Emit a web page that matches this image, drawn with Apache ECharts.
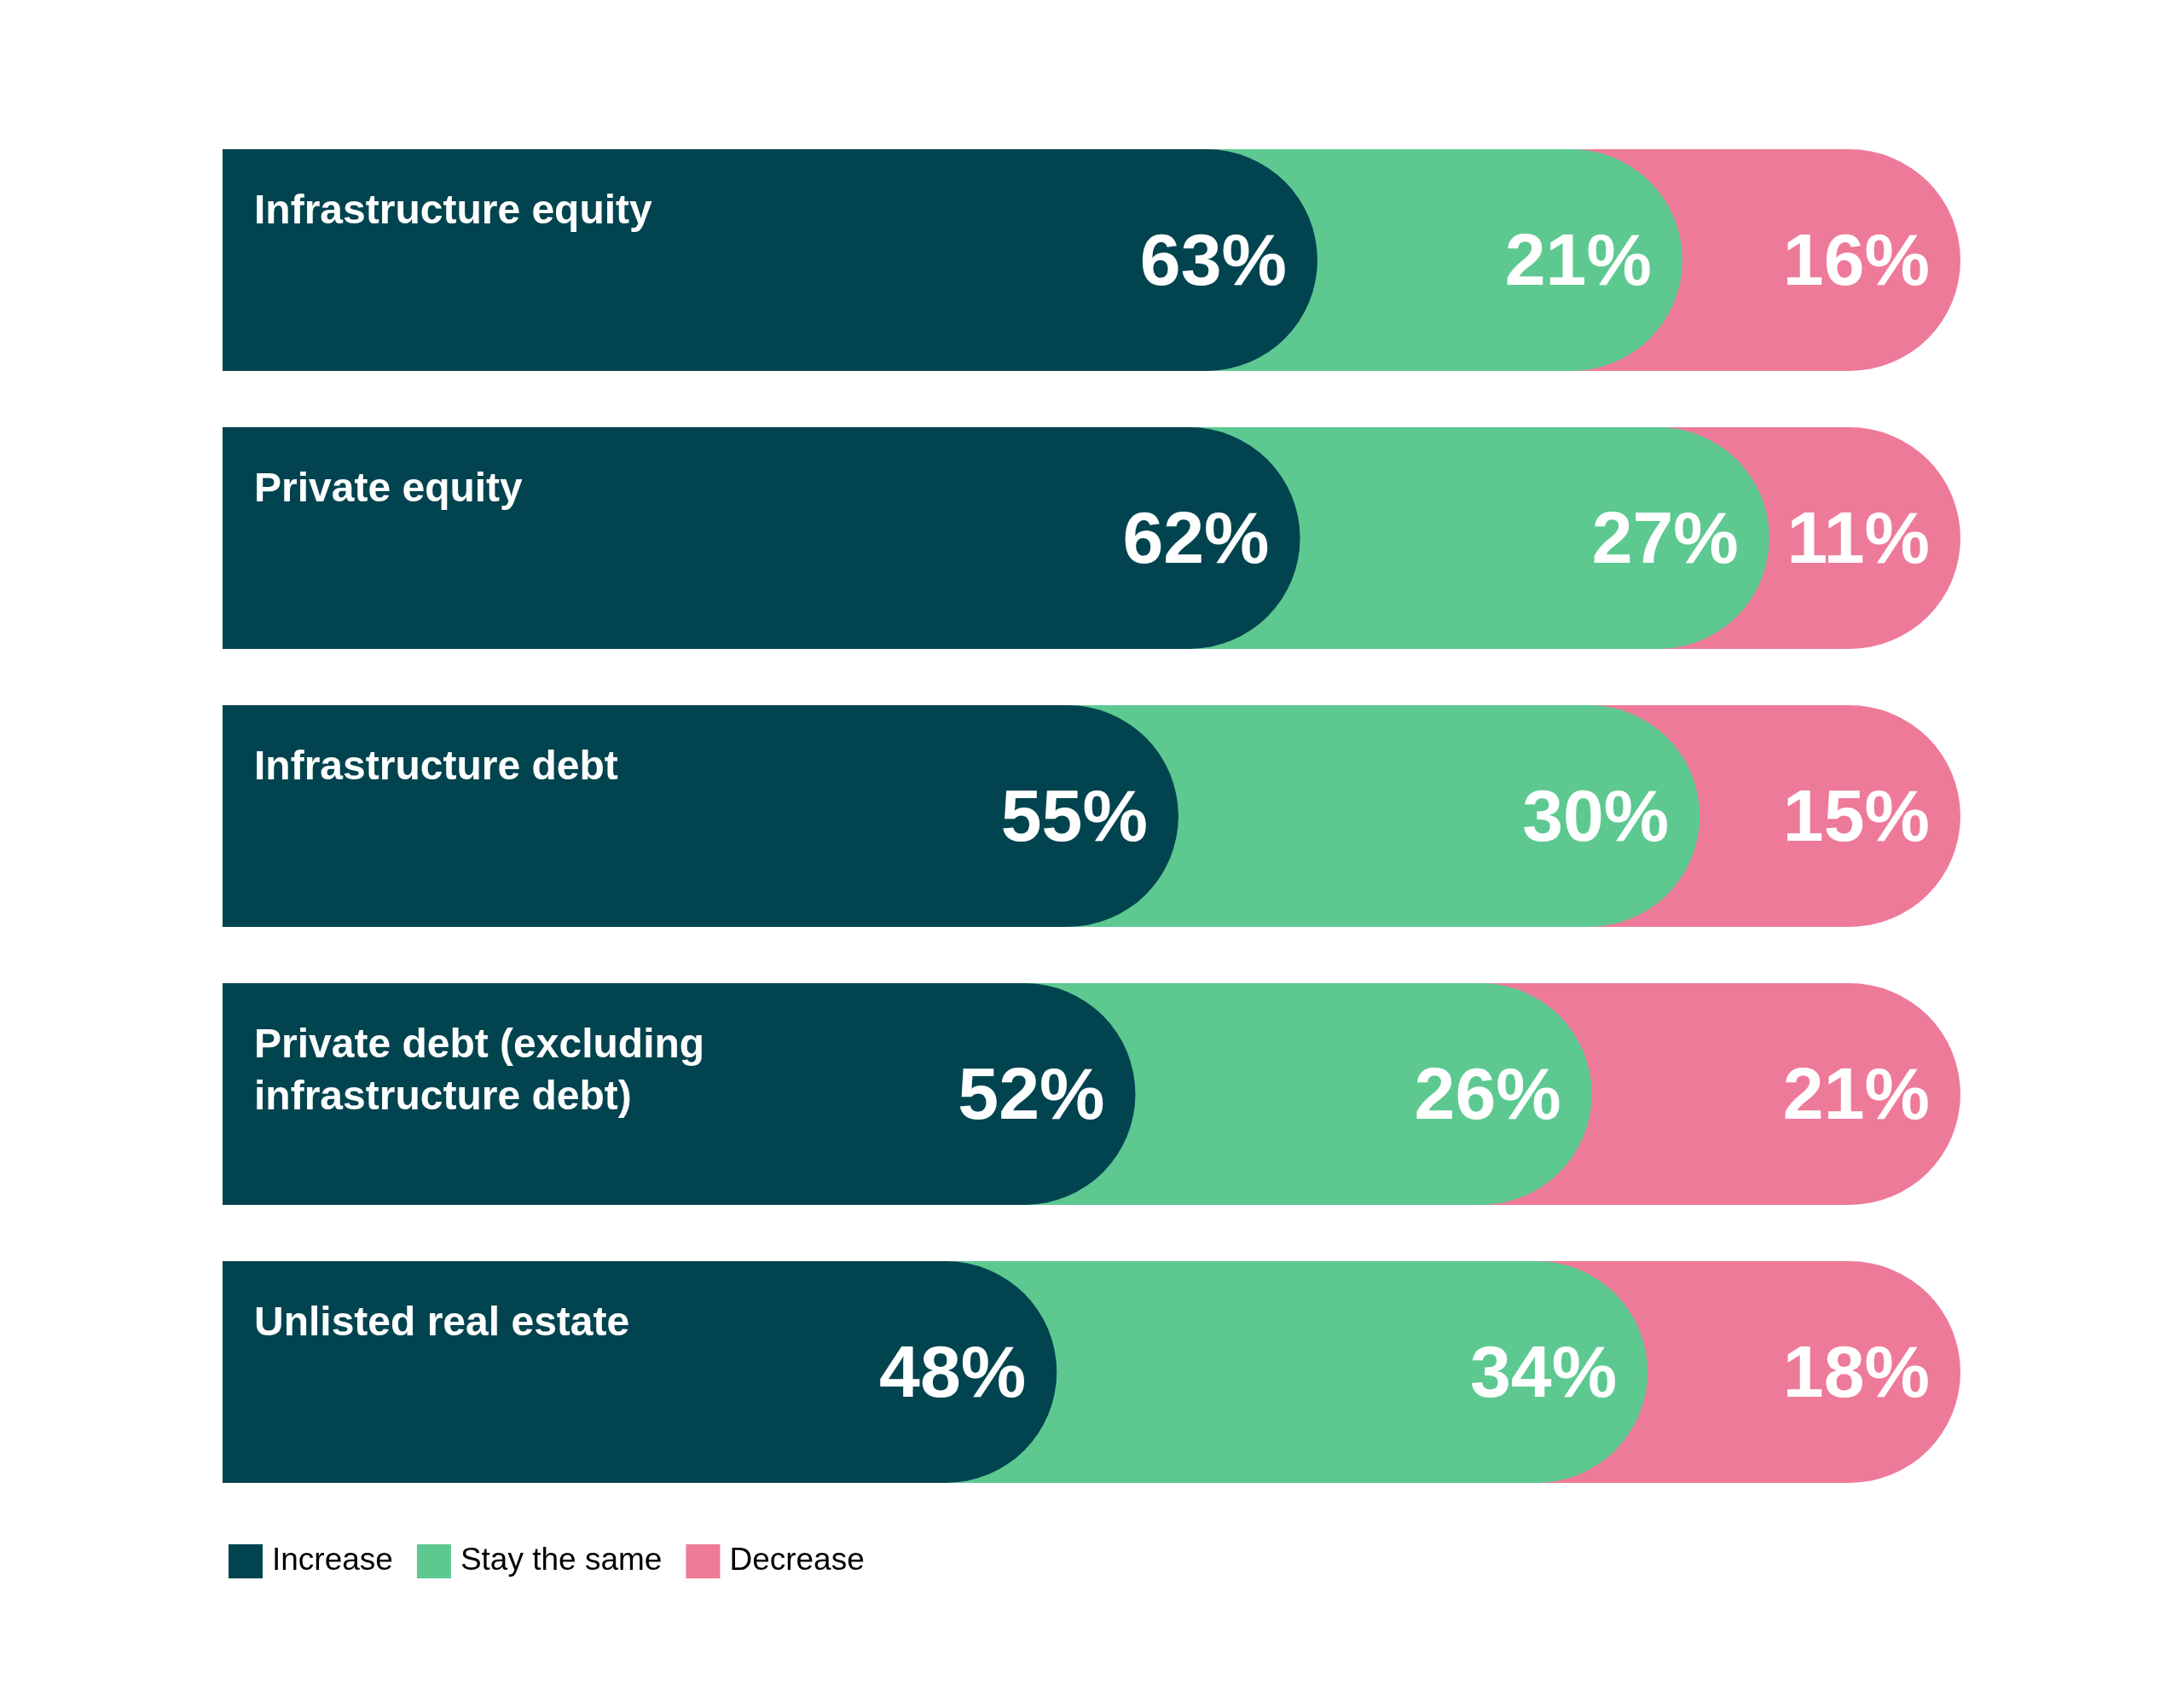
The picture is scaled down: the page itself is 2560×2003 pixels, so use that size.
<!DOCTYPE html>
<html>
<head>
  <meta charset="UTF-8">
  <script src="https://cdn.jsdelivr.net/npm/echarts@6/dist/echarts.min.js"></script>
  <style>
    html, body { margin: 0; padding: 0; background: #ffffff; }
    #main { width: 2560px; height: 2003px; }
  </style>
</head>
<body>
  <div id="main"></div>
  <script>
    // data
    var categories = [
      'Infrastructure equity',
      'Private equity',
      'Infrastructure debt',
      'Private debt (excluding\ninfrastructure debt)',
      'Unlisted real estate'
    ];
    var increase = [63, 62, 55, 52, 48];
    var stayTheSame = [21, 27, 30, 26, 34];
    var decrease = [16, 11, 15, 21, 18];

    var colors = {
      increase: '#01444F',
      same: '#5DC991',
      decrease: '#EE7A99'
    };
    var font = "'Liberation Sans', Arial, sans-serif";

    // bars overlap: each one runs from 0 to the running total (scaled to 100)
    var totals = categories.map(function (c, i) {
      return increase[i] + stayTheSame[i] + decrease[i];
    });
    var endIncrease = increase.map(function (v, i) { return v / totals[i] * 100; });
    var endSame = stayTheSame.map(function (v, i) { return (increase[i] + v) / totals[i] * 100; });
    var endDecrease = totals.map(function () { return 100; });

    function valueLabel(values) {
      return {
        show: true,
        position: 'insideRight',
        distance: 36,
        offset: [0, 5],
        color: '#ffffff',
        fontFamily: font,
        fontWeight: 'bold',
        fontSize: 86,
        formatter: function (p) { return values[p.dataIndex] + '%'; }
      };
    }

    var barStyle = function (color) {
      return { color: color, borderRadius: [0, 130, 130, 0] };
    };

    var myChart = echarts.init(document.getElementById('main'));
    myChart.setOption({
      animation: false,
      backgroundColor: '#ffffff',
      grid: { left: 261, right: 261, top: 142, height: 1630 },
      xAxis: { type: 'value', min: 0, max: 100, show: false },
      yAxis: { type: 'category', data: categories, inverse: true, show: false },
      legend: {
        data: ['Increase', 'Stay the same', 'Decrease'],
        left: 263,
        top: 1806,
        icon: 'rect',
        itemWidth: 40,
        itemHeight: 40,
        itemGap: 28,
        textStyle: { fontFamily: font, fontSize: 37, color: '#000000', padding: [0, 0, 0, 6] }
      },
      series: [
        {
          name: 'Decrease', type: 'bar', barWidth: 260, barGap: '-100%',
          data: endDecrease, itemStyle: barStyle(colors.decrease),
          label: valueLabel(decrease), silent: true
        },
        {
          name: 'Stay the same', type: 'bar', barWidth: 260, barGap: '-100%',
          data: endSame, itemStyle: barStyle(colors.same),
          label: valueLabel(stayTheSame), silent: true
        },
        {
          name: 'Increase', type: 'bar', barWidth: 260, barGap: '-100%',
          data: endIncrease, itemStyle: barStyle(colors.increase),
          label: valueLabel(increase), silent: true
        },
        {
          // invisible layer that carries the category names
          name: 'names', type: 'bar', barWidth: 260, barGap: '-100%',
          data: endDecrease, itemStyle: { color: 'rgba(0,0,0,0)' }, silent: true,
          label: {
            show: true,
            position: [37, 43],
            align: 'left',
            verticalAlign: 'top',
            color: '#ffffff',
            fontFamily: font,
            fontWeight: 'bold',
            fontSize: 48,
            lineHeight: 61,
            formatter: function (p) { return categories[p.dataIndex]; }
          }
        }
      ]
    });
  </script>
</body>
</html>
